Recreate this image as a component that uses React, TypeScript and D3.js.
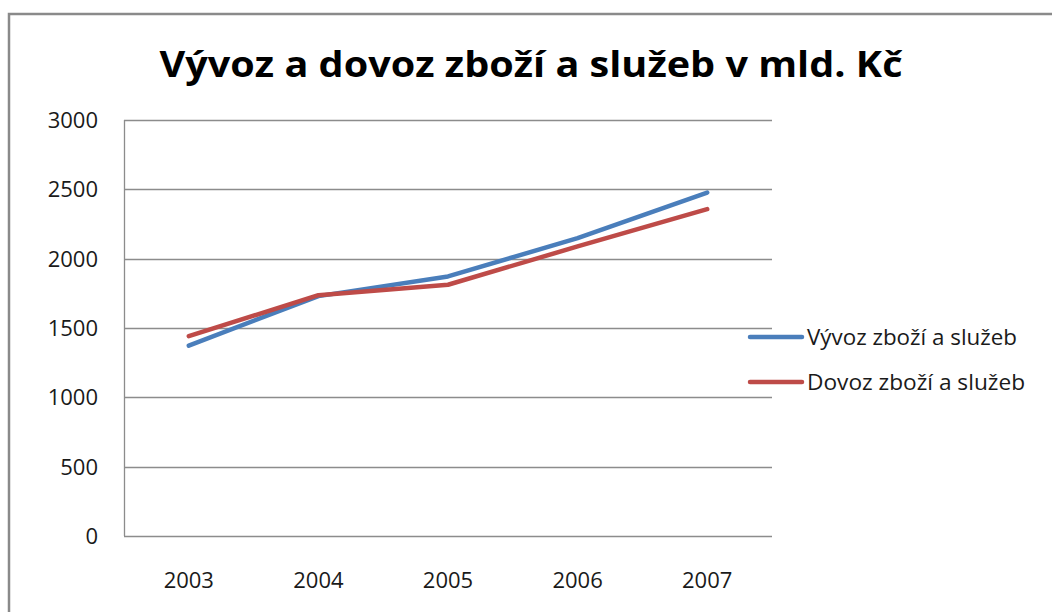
import { useEffect, useRef } from 'react';
import * as d3 from 'd3';

const years = ['2003', '2004', '2005', '2006', '2007'];
const exportValues = [1373, 1730, 1872, 2148, 2477];
const importValues = [1441, 1737, 1812, 2088, 2357];
const seriesNames = ['Vývoz zboží a služeb', 'Dovoz zboží a služeb'];
const seriesColors = ['#4a7ebb', '#be4b48'];
const yTicks = [0, 500, 1000, 1500, 2000, 2500, 3000];

const width = 1052;
const height = 612;
const font = '"Open Sans", "Noto Sans", sans-serif';

export default function App() {
  const svgRef = useRef<SVGSVGElement>(null);

  useEffect(() => {
    if (!svgRef.current) return;
    const svg = d3.select(svgRef.current);
    svg.selectAll('*').remove();

    const plot = { left: 124, top: 120, right: 772, bottom: 536 };

    const x = d3.scaleBand<string>()
      .domain(years)
      .range([plot.left, plot.right]);

    const y = d3.scaleLinear()
      .domain([0, 3000])
      .range([plot.bottom, plot.top]);

    // outer chart border
    svg.append('path')
      .attr('d', `M9,${height + 5} V14 H${width + 5}`)
      .attr('fill', 'none')
      .attr('stroke', '#8a8a8a')
      .attr('stroke-width', 2.5);

    // title
    svg.append('text')
      .attr('x', 531)
      .attr('y', 77)
      .attr('text-anchor', 'middle')
      .attr('font-size', '35px')
      .attr('font-weight', '700')
      .attr('textLength', 743)
      .attr('lengthAdjust', 'spacingAndGlyphs')
      .style('font-family', font)
      .attr('fill', '#000')
      .text('Vývoz a dovoz zboží a služeb v mld. Kč');

    // gridlines
    svg.append('g')
      .selectAll('line')
      .data(yTicks)
      .enter()
      .append('line')
      .attr('x1', plot.left)
      .attr('x2', plot.right)
      .attr('y1', d => Math.round(y(d)) + 0.5)
      .attr('y2', d => Math.round(y(d)) + 0.5)
      .attr('stroke', '#8c8c8c')
      .attr('stroke-width', 1.3);

    // y axis line
    svg.append('line')
      .attr('x1', plot.left + 0.5)
      .attr('x2', plot.left + 0.5)
      .attr('y1', plot.top)
      .attr('y2', plot.bottom)
      .attr('stroke', '#8c8c8c')
      .attr('stroke-width', 1.3);

    // y tick labels
    svg.append('g')
      .selectAll('text')
      .data(yTicks)
      .enter()
      .append('text')
      .attr('x', 98)
      .attr('y', d => y(d) + 8)
      .attr('text-anchor', 'end')
      .attr('font-size', '22px')
      .style('font-family', font)
      .attr('fill', '#1a1a1a')
      .text(d => String(d));

    // x tick labels
    svg.append('g')
      .selectAll('text')
      .data(years)
      .enter()
      .append('text')
      .attr('x', d => (x(d) ?? 0) + x.bandwidth() / 2)
      .attr('y', 588)
      .attr('text-anchor', 'middle')
      .attr('font-size', '22px')
      .style('font-family', font)
      .attr('fill', '#1a1a1a')
      .text(d => d);

    const line = d3.line<number>()
      .x((_, i) => (x(years[i]) ?? 0) + x.bandwidth() / 2)
      .y(d => y(d));

    [exportValues, importValues].forEach((vals, i) => {
      svg.append('path')
        .datum(vals)
        .attr('d', line)
        .attr('fill', 'none')
        .attr('stroke', seriesColors[i])
        .attr('stroke-width', 4.5)
        .attr('stroke-linecap', 'round')
        .attr('stroke-linejoin', 'round');
    });

    // legend
    const legend = svg.append('g')
      .attr('transform', 'translate(748, 337)');

    const items = legend.selectAll('g')
      .data(seriesNames)
      .enter()
      .append('g')
      .attr('transform', (_, i) => `translate(0, ${i * 45})`);

    items.append('line')
      .attr('x1', 2)
      .attr('x2', 54)
      .attr('stroke', (_, i) => seriesColors[i])
      .attr('stroke-width', 4.5)
      .attr('stroke-linecap', 'round');

    items.append('text')
      .attr('x', 59)
      .attr('y', 8)
      .attr('font-size', '22px')
      .attr('textLength', (_, i) => (i === 0 ? 210 : 218))
      .attr('lengthAdjust', 'spacingAndGlyphs')
      .style('font-family', font)
      .attr('fill', '#1a1a1a')
      .text(d => d);
  }, []);

  return (
    <svg
      ref={svgRef}
      width={width}
      height={height}
      style={{ position: 'absolute', left: 0, top: 0, background: '#fff' }}
    />
  );
}
